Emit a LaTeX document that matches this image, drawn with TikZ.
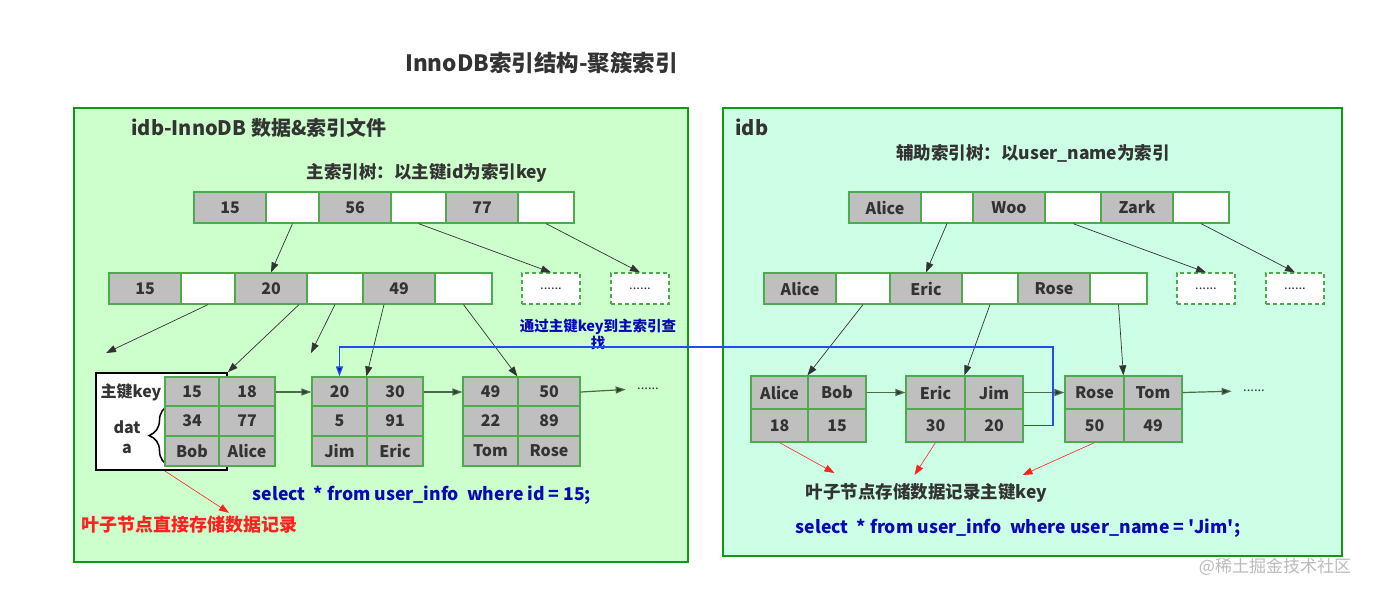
\documentclass[tikz,border=0pt]{standalone}
\usepackage{fontspec}
\setmainfont{Noto Sans CJK SC}
\usetikzlibrary{arrows.meta,decorations.pathreplacing}
\definecolor{panelgreen}{HTML}{CCFFCC}
\definecolor{panelmint}{HTML}{CCFFE6}
\definecolor{frame}{HTML}{129912}
\definecolor{cellgray}{HTML}{BFBFBF}
\definecolor{celledge}{HTML}{4DAA4D}
\definecolor{ink}{HTML}{333333}
\definecolor{chain}{HTML}{4A6A4A}
\definecolor{sqlblue}{HTML}{0A0AB4}
\definecolor{linkblue}{HTML}{1F4FE8}
\definecolor{notered}{HTML}{FF2020}
\definecolor{watergray}{HTML}{BBBBBB}

\begin{document}
\begin{tikzpicture}[x=1pt,y=-1pt,
    panel/.style={draw=frame,line width=2pt},
    keycell/.style={draw=celledge,line width=1.2pt,fill=cellgray,text=ink,inner sep=0pt,
        minimum width=72pt,minimum height=31pt,font=\bfseries\fontsize{16}{16}\selectfont},
    ptrcell/.style={keycell,fill=white,minimum width=56pt},
    morecell/.style={keycell,fill=white,dash pattern=on 4pt off 3pt,minimum width=58pt,
        font=\fontsize{13}{13}\selectfont},
    leafcell/.style={keycell,minimum width=56pt,minimum height=30pt},
    treearrow/.style={draw=ink,line width=0.7pt,-{Triangle[length=10pt,width=7pt]}},
    leafarrow/.style={draw=chain,line width=1.2pt,-{Triangle[length=10pt,width=7pt,fill=ink]}},
    notearrow/.style={draw=notered,line width=0.6pt,-{Triangle[length=10pt,width=7pt]}},
    findarrow/.style={draw=linkblue,line width=1.4pt,-{Triangle[length=10pt,width=7pt,fill=sqlblue]}},
    headtext/.style={text=ink,font=\bfseries\fontsize{17.5}{17.5}\selectfont},
    sql/.style={text=sqlblue,font=\bfseries\fontsize{17.6}{17.6}\selectfont},
    dots/.style={text=ink,font=\fontsize{13}{13}\selectfont}]

\fill[white] (0,0) rectangle (1374,595);
\useasboundingbox (0,0) rectangle (1374,595);

\draw[panel,fill=panelgreen] (74,108) rectangle (688,562);
\draw[panel,fill=panelmint] (723,108) rectangle (1342,556);

\node[headtext,font=\bfseries\fontsize{22.5}{22.5}\selectfont] (title) at (541.5,63) {InnoDB索引结构-聚簇索引};
\node[headtext,font=\bfseries\fontsize{20}{20}\selectfont,anchor=west] (lhead) at (128,128) {idb-InnoDB 数据\&索引文件};
\node[headtext] (lsub) at (427,173) {主索引树：以主键id为索引key};
\node[headtext,font=\bfseries\fontsize{20}{20}\selectfont,anchor=west] (rhead) at (732,127) {idb};
\node[headtext] (rsub) at (1033,153) {辅助索引树：以user\_name为索引};

\node[keycell] (lr1) at (230,207.5) {15};
\node[ptrcell,minimum width=53pt] (lp1) at (292.5,207.5) {};
\node[keycell] (lr2) at (355,207.5) {56};
\node[ptrcell,minimum width=55pt] (lp2) at (418.5,207.5) {};
\node[keycell] (lr3) at (482,207.5) {77};
\node[ptrcell] (lp3) at (546,207.5) {};

\node[keycell] (lm1) at (145,288.5) {15};
\node[ptrcell,minimum width=54pt] (lq1) at (208,288.5) {};
\node[keycell] (lm2) at (271,288.5) {20};
\node[ptrcell] (lq2) at (335,288.5) {};
\node[keycell] (lm3) at (399,288.5) {49};
\node[ptrcell,minimum width=57pt] (lq3) at (463.5,288.5) {};
\node[morecell] (ld1) at (551,288.5) {......};
\node[morecell] (ld2) at (640,288.5) {......};

\node[draw=black,line width=1.5pt,fill=white,inner sep=0pt,minimum width=131pt,minimum height=97pt] (keybox) at (161.5,421.5) {};
\node[headtext,font=\bfseries\fontsize{16}{16}\selectfont] (pkey) at (131,392) {主键key};
\node[headtext,font=\bfseries\fontsize{16}{20}\selectfont,align=center] (pdata) at (127,437) {dat\\a};
\draw[decorate,decoration={brace,amplitude=21pt},line width=1.5pt] (170,466) -- (170,405);

\node[leafcell,minimum width=54pt] (p1k1) at (192,392) {15};
\node[leafcell] (p1k2) at (247,392) {18};
\node[leafcell,minimum width=54pt] (p1v1) at (192,421) {34};
\node[leafcell] (p1v2) at (247,421) {77};
\node[leafcell,minimum width=54pt] (p1n1) at (192,451) {Bob};
\node[leafcell] (p1n2) at (247,451) {Alice};

\node[leafcell,minimum width=55pt] (p2k1) at (339.5,392) {20};
\node[leafcell] (p2k2) at (395,392) {30};
\node[leafcell,minimum width=55pt] (p2v1) at (339.5,421) {5};
\node[leafcell] (p2v2) at (395,421) {91};
\node[leafcell,minimum width=55pt] (p2n1) at (339.5,451) {Jim};
\node[leafcell] (p2n2) at (395,451) {Eric};

\node[leafcell,minimum width=55pt] (p3k1) at (490.5,392) {49};
\node[leafcell,minimum width=62pt] (p3k2) at (549,392) {50};
\node[leafcell,minimum width=55pt] (p3v1) at (490.5,421) {22};
\node[leafcell,minimum width=62pt] (p3v2) at (549,421) {89};
\node[leafcell,minimum width=55pt] (p3n1) at (490.5,451) {Tom};
\node[leafcell,minimum width=62pt] (p3n2) at (549,451) {Rose};
\node[dots] (pdots) at (648,389) {......};

\node[sql] (psql) at (422,495) {select\ \ * from user\_info\ \ where id = 15;};
\node[headtext,text=notered,font=\bfseries\fontsize{18}{18}\selectfont] (pnote) at (189,525) {叶子节点直接存储数据记录};
\node[sql,font=\bfseries\fontsize{14.5}{17}\selectfont,align=center] (pfind) at (598,334) {通过主键key到主索引查\\找};

\coordinate (lfree1) at (106,353);
\coordinate (lfree2) at (311,353);
\draw[treearrow] (lp1.south) -- (lm2.north);
\draw[treearrow] (lp2.south) -- (ld1.north);
\draw[treearrow] (lp3.south) -- (ld2.north);
\draw[treearrow] (lq1.south) -- (lfree1);
\draw[treearrow] ([xshift=28pt]lm2.south) -- (keybox.north east);
\draw[treearrow] (lq2.south) -- (lfree2);
\draw[treearrow] ([xshift=-15pt]lm3.south) -- (p2k2.north west);
\draw[treearrow] (lq3.south) -- (p3k2.north west);
\draw[leafarrow] (p1k2.east) -- (p2k1.west);
\draw[leafarrow] (p2k2.east) -- (p3k1.west);
\draw[leafarrow,shorten >=8pt] (p3k2.east) -- (pdots.west);
\draw[notearrow] ([xshift=3pt]keybox.south) -- ([xshift=40pt]pnote.north);

\node[keycell] (rr1) at (885,207.5) {Alice};
\node[ptrcell,minimum width=52pt] (rp1) at (947,207.5) {};
\node[keycell] (rr2) at (1009,207.5) {Woo};
\node[ptrcell] (rp2) at (1073,207.5) {};
\node[keycell] (rr3) at (1137,207.5) {Zark};
\node[ptrcell] (rp3) at (1201,207.5) {};

\node[keycell] (rm1) at (800,288.5) {Alice};
\node[ptrcell,minimum width=54pt] (rq1) at (863,288.5) {};
\node[keycell] (rm2) at (926,288.5) {Eric};
\node[ptrcell] (rq2) at (990,288.5) {};
\node[keycell] (rm3) at (1054,288.5) {Rose};
\node[ptrcell,minimum width=57pt] (rq3) at (1118.5,288.5) {};
\node[morecell] (rd1) at (1206,288.5) {......};
\node[morecell] (rd2) at (1295,288.5) {......};

\node[leafcell,minimum width=57pt,minimum height=33pt] (s1k1) at (779.5,392.5) {Alice};
\node[leafcell,minimum width=58pt,minimum height=33pt] (s1k2) at (837,392.5) {Bob};
\node[leafcell,minimum width=57pt,minimum height=33pt] (s1v1) at (779.5,425.5) {18};
\node[leafcell,minimum width=58pt,minimum height=33pt] (s1v2) at (837,425.5) {15};

\node[leafcell,minimum width=59pt,minimum height=33pt] (s2k1) at (935.5,392.5) {Eric};
\node[leafcell,minimum width=58pt,minimum height=33pt] (s2k2) at (994,392.5) {Jim};
\node[leafcell,minimum width=59pt,minimum height=33pt] (s2v1) at (935.5,425.5) {30};
\node[leafcell,minimum width=58pt,minimum height=33pt] (s2v2) at (994,425.5) {20};

\node[leafcell,minimum width=59pt,minimum height=33pt] (s3k1) at (1094.5,392.5) {Rose};
\node[leafcell,minimum width=58pt,minimum height=33pt] (s3k2) at (1153,392.5) {Tom};
\node[leafcell,minimum width=59pt,minimum height=33pt] (s3v1) at (1094.5,425.5) {50};
\node[leafcell,minimum width=58pt,minimum height=33pt] (s3v2) at (1153,425.5) {49};
\node[dots] (sdots) at (1254,391) {......};

\node[headtext] (snote) at (926.5,493) {叶子节点存储数据记录主键key};
\node[sql] (ssql) at (1018,528) {select\ \ * from user\_info\ \ where user\_name = \textquotesingle Jim\textquotesingle;};
\node[text=watergray,font=\fontsize{17}{17}\selectfont] (wmark) at (1275,567) {@稀土掘金技术社区};

\draw[treearrow] (rp1.south) -- (rm2.north);
\draw[treearrow] (rp2.south) -- (rd1.north);
\draw[treearrow] (rp3.south) -- (rd2.north);
\draw[treearrow] (rq1.south) -- (s1k2.north west);
\draw[treearrow] (rq2.south) -- (s2k2.north west);
\draw[treearrow] (rq3.south) -- (s3k2.north west);
\draw[leafarrow] (s1k2.east) -- (s2k1.west);
\draw[leafarrow] (s2k2.east) -- (s3k1.west);
\draw[leafarrow,shorten >=8pt] (s3k2.east) -- (sdots.west);
\draw[notearrow] (s1v1.south) -- ([xshift=-92pt,yshift=7pt]snote.north);
\draw[notearrow] (s2v1.south) -- ([xshift=-12pt,yshift=5pt]snote.north);
\draw[notearrow] (s3v1.south) -- ([xshift=96pt,yshift=5pt]snote.north);

\coordinate (bend) at (1053,347);
\draw[findarrow,color=linkblue] (s2v2.east) -| (bend) -| (p2k1.north);
\end{tikzpicture}
\end{document}
